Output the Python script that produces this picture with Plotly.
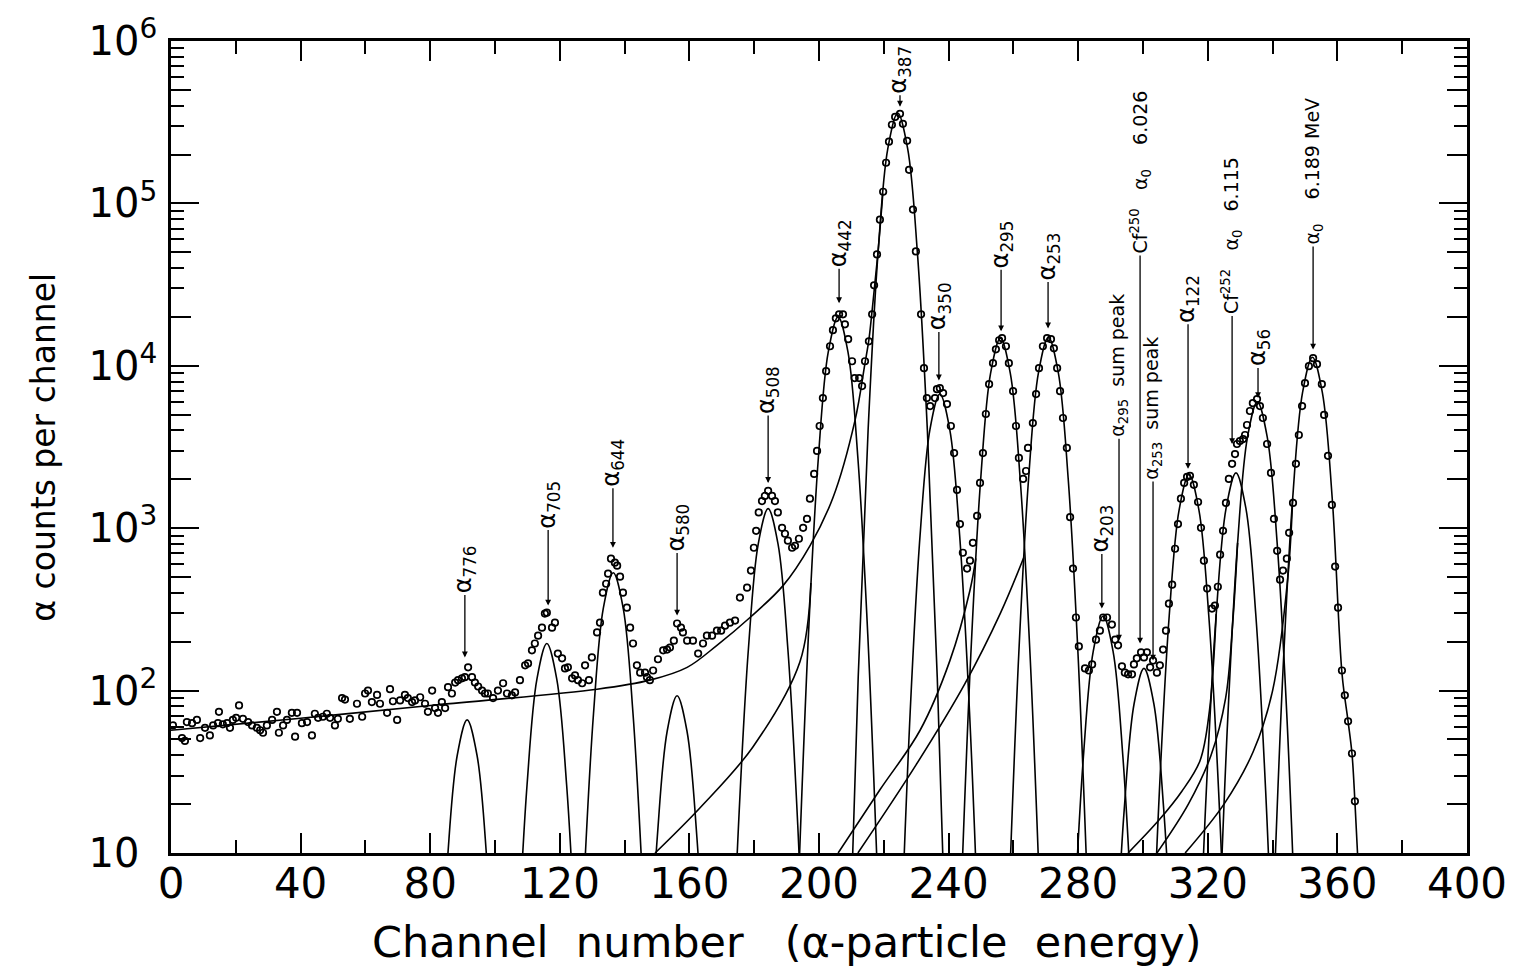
import math
import plotly.graph_objects as go

# ---------------- measured spectrum (channel, counts) ----------------
pts_a = [(0.6,61),(3.4,51),(4.3,49),(4.9,64),(6.5,63),(8.0,66),(9.0,51),(10.5,59),(12.0,53),(13.0,61),
         (14.5,63),(14.8,74),(16.0,62),(17.3,63),(18.2,59),(19.1,66),(20.1,68),(21.0,81),(22.2,67),(23.8,64),
         (25.0,61),(26.5,59),(27.5,57),(28.4,55),(29.6,61),(31.2,66),(32.7,74),(33.3,55),(34.6,61),(35.8,66),
         (37.3,73),(38.3,52),(38.9,73),(40.4,63),(42.0,64),(43.5,53),(44.4,72),(45.4,68),(46.9,69),(48.1,72),
         (49.1,68),(50.6,61),(51.5,67),(52.8,90),(53.7,88),(55.2,67),(57.4,83),(59.0,69),(59.9,96),(60.8,100),
         (62.0,85),(63.6,94),(64.5,83),(66.7,73),(67.6,102),(68.5,86),(69.8,66),(70.7,87),(72.2,94),(73.1,90),
         (74.4,85),(75.3,87),(76.9,91),(78.4,83),(79.3,74),(80.6,100),(81.5,78),(82.4,73),(83.6,85),(84.6,78),
         (85.5,105),(86.7,96),(87.7,112),(88.6,116),(89.8,119),(90.7,121),(91.7,139),(92.9,121),(93.8,112),
         (94.8,106),(96.0,100),(96.9,96),(97.8,96)]
pts_b = [(99.4,90),(100.9,100),(102.5,111),(103.7,96),(105.2,93.5),(106.2,97.5),(107.7,116),(109.3,143),
         (110.2,147),(111.4,177),(112.3,195),(113.3,218),(114.5,244),(115.4,298),(116.0,302),(117.6,244),
         (118.5,262),(119.4,169),(120.7,158),(121.6,137),(122.5,139),(123.8,119),(124.7,124),(125.6,116),
         (126.9,111),(127.8,143),(129.0,116),(129.9,160),(131.5,228),(132.4,262),(133.3,401),(134.3,455),
         (134.9,525),(135.8,649),(137.0,613),(137.7,588),(138.6,503),(139.5,401),(140.7,324),(141.7,244),
         (142.6,195),(143.8,143),(144.8,129),(146.3,129),(146.9,121),(147.8,116),(148.8,133),(150.3,156),
         (151.9,177),(153.1,179),(154.0,184),(155.2,203),(156.2,259),(157.4,244),(158.0,228),(159.3,203),
         (161.1,203),(162.7,169),(164.2,195),(165.4,218),(167.0,218),(168.5,234),(169.8,234),(171.0,251),
         (172.5,262),(174.1,270),(175.6,374),(177.8,430),(179.0,548),(179.9,758),(180.6,964),(181.4,1250),
         (182.4,1470),(183.3,1580),(184.3,1700),(185.5,1580),(186.4,1470),(187.3,1250),(188.6,1005),
         (189.5,924),(190.4,838),(191.7,758),(192.6,779),(193.8,861),(195.1,1005),(196.3,1140),(197.2,1520),
         (198.5,2160),(199.4,2990),(200.2,4260),(201.2,6330),(202.2,9270),(203.4,13190),(204.3,16570),
         (205.2,19600),(206.2,20750),(207.4,20750),(208.0,18000),(209.0,14580),(210.2,10670),(211.0,8400),
         (212.4,8400),(213.3,7500),(214.2,10670)]
pts_c = [(215.4,14150),(216.4,20750),(217.0,31300),(217.9,48500),(218.8,79400),(219.8,118000),(220.7,178000),
         (221.6,240000),(222.5,305000),(223.5,341000),(225.0,356000),(225.9,309000),(227.2,243000),
         (227.8,161000),(229.0,91600),(229.9,50600),(231.5,20750),(232.4,9670),(233.3,6330),(234.3,5650),
         (235.8,6330),(236.4,7180),(237.3,7280),(238.3,6790),(239.5,5810),(240.7,4260),(241.7,2900),
         (242.6,1720),(243.5,1060),(244.4,706),(245.7,564),(246.6,631),(247.5,813),(248.8,1190),(249.7,1900),
         (250.6,2900),(251.5,5050),(252.5,7710),(253.7,10380),(254.6,12640),(255.6,14370),(256.5,14790),
         (257.7,13190),(258.6,10380),(259.9,6980),(260.8,4260),(261.7,2710),(263.0,2010),(263.9,2250),
         (264.5,3120),(266.0,4440),(267.0,6700),(267.9,9670),(269.1,13190),(270.4,14790),(271.6,14580),
         (272.5,12820),(273.5,9670),(274.4,6980),(275.3,4770),(276.5,3120),(277.5,1170),(278.4,564),(279.3,282)]
pts_d = [(280.2,187),(282.1,137),(283.3,133),(284.3,145),(285.5,206),(286.7,234),(287.7,282),(288.9,282),
         (290.4,255),(291.4,206),(292.3,190),(293.5,141),(294.4,129),(295.4,126),(296.6,126),(297.2,145),
         (298.1,158),(299.4,172),(300.3,160),(301.2,172),(302.2,139),(303.1,153),(304.3,129),(305.2,143),
         (306.2,179),(307.1,234),(308.0,343),(309.0,449),(309.9,747),(310.8,1060),(311.7,1520),(312.7,1900),
         (313.6,2070),(314.5,2100),(315.7,1850),(317.0,1450),(317.9,1005),(318.8,631),(319.8,425),
         (321.3,320),(322.2,334),(323.1,436),(323.8,687),(324.7,964),(325.6,1430),(326.5,2010),(327.5,2490),
         (328.4,2860),(329.0,3300),(329.9,3440),(330.9,3540),(331.5,3750),(332.1,4320),(333.0,5270),
         (333.9,5890),(335.2,6240),(336.1,5650),(337.0,4770),(338.3,3300),(339.5,2190),(340.4,1140),
         (341.4,726),(342.3,482),(343.2,548),(344.4,649),(345.1,937),(346.3,1430),(347.2,2490),(348.1,3750),
         (349.1,5650),(350.0,7820),(351.2,9950),(352.5,11140),(353.7,10230),(355.2,7710),(355.9,4980),
         (357.1,2790),(358.3,1390),(359.3,580),(360.2,324),(361.4,133),(362.3,93.5),(363.3,64.7),
         (364.5,41),(365.4,20.8)]

# ---------------- fitted component curves (key points) ----------------
g776_x = [82.25,85.3,88.35,91.4,94.45,97.5,100.55];       g776_y = [0.73,8.9,40,66,40,8.9,0.73]
g705_x = [106.85,109.9,112.95,116.0,119.05,122.1,125.15]; g705_y = [2.17,26.4,118,195,118,26.4,2.17]
g644_x = [127.35,130.4,133.45,136.5,139.55,142.6,145.65]; g644_y = [5.9,72,323,532,323,72,5.9]
g580_x = [147.05,150.1,153.15,156.2,159.25,162.3,165.35]; g580_y = [1.03,12.6,56.4,93,56.4,12.6,1.03]
g508_x = [172.1,175.15,178.2,181.25,184.3,187.35,190.4,193.45,196.5]
g508_y = [0.44,14.7,179,801,1320,801,179,14.7,0.44]
g442_x = [193.7,196.75,199.8,202.85,205.9,208.95,212.0,215.05,218.1]
g442_y = [6.7,222,2706,12130,20000,12130,2706,222,6.7]
g387_x = [209.05,212.1,215.15,218.2,221.25,224.3,227.35,230.4,233.45,236.5,239.55]
g387_y = [1.34,120.6,4000,48700,218000,360000,218000,48700,4000,120.6,1.34]
g350_x = [225.1,228.15,231.2,234.25,237.3,240.35,243.4,246.45,249.5]
g350_y = [2.24,74.4,906,4064,6700,4064,906,74.4,2.24]
g295_x = [243.8,246.85,249.9,252.95,256.0,259.05,262.1,265.15,268.2]
g295_y = [4.96,164.4,2002,8976,14800,8976,2002,164.4,4.96]
g253_x = [258.6,261.65,264.7,267.75,270.8,273.85,276.9,279.95,283.0]
g253_y = [5.0,166.7,2030,9098,15000,9098,2030,166.7,5.0]
g203_x = [278.55,281.6,284.65,287.7,290.75,293.8,296.85]; g203_y = [3.2,39,175,288,175,39,3.2]
gcf250_x = [291.15,294.2,297.25,300.3,303.35,306.4,309.45]; gcf250_y = [1.52,18.5,83,137,83,18.5,1.52]
g122_x = [302.0,305.05,308.1,311.15,314.2,317.25,320.3,323.35,326.4]
g122_y = [0.72,23.8,290,1298,2140,1298,290,23.8,0.72]
gcf252_x = [316.5,319.55,322.6,325.65,328.7,331.75,334.8,337.85,340.9]
gcf252_y = [0.73,24.3,296,1328,2190,1328,296,24.3,0.73]
g56_x = [323.1,326.15,329.2,332.25,335.3,338.35,341.4,344.45,347.5]
g56_y = [2.0,66.7,812,3639,6000,3639,812,66.7,2.0]
g0_x = [340.1,343.15,346.2,349.25,352.3,355.35,358.4,361.45,363.3,364.5,365.4,366.6]
g0_y = [3.79,125.5,1529,6853,11300,6853,1529,125.5,64.7,41,20.8,7]

# low-energy tails / background
bg_x = [0,40,80,131.5,147.8,159.3,168.5,178.7,188.9,197.2,204.3,211.1,214.2,215.4,216.6,218.2,219.7]
bg_y = [57,67.5,81,102,116,139,190,282,443,779,1540,4600,10400,14500,24000,50000,115000]
t442_x = [149.4,163.3,179.6,194.1,197.5]; t442_y = [10,19,45,150,460]
t295_x = [205.9,218.8,231.2,240.4,246.6,248.4]; t295_y = [10,24.5,57,153,415,651]
t253_x = [212.0,230.0,245.0,256.0,263.2]; t253_y = [10,35,110,300,660]
t252_x = [295.4,305.0,312.0,317.6,320.5,322.6]; t252_y = [10,16,24,37,75,296]
t56_x = [304.3,314.0,321.0,325.5,327.7,329.2]; t56_y = [10,20,40,90,264,812]
t0_x = [313.0,325.0,334.0,340.0,344.7,346.2]; t0_y = [10,20,42,100,497,1529]

# ---------------- peak labels ----------------
NB = "\u00a0"

def sub(n):
    return "α<sub>" + n + "</sub>"

lab_text = [sub("776"), sub("705"), sub("644"), sub("580"), sub("508"), sub("442"), sub("387"),
            sub("350"), sub("295"), sub("253"), sub("203"),
            sub("295") + NB * 2 + "sum" + NB + "peak",
            "Cf<sup>250</sup>" + NB * 3 + sub("0") + NB * 4 + "6.026",
            sub("253") + NB * 2 + "sum" + NB + "peak",
            sub("122"),
            "Cf<sup>252</sup>" + NB * 3 + sub("0") + NB * 3 + "6.115",
            sub("56"),
            sub("0") + NB * 4 + "6.189" + NB + "MeV"]
lab_size = [24, 24, 24, 24, 24, 24, 24, 24, 24, 24, 24, 19, 19, 19, 24, 19, 24, 19]
lab_ch = [90.7,116.4,136.4,156.2,184.3,206.2,225.0,237.0,256.2,270.7,287.3,292.6,299.1,303.1,313.9,327.5,335.5,352.5]
lab_cnt = [160,334,758,290,1900,24300,394000,8130,16300,17000,320,203,195,153,2320,3300,6330,12600]
lab_off = [-88,-101,-85,-88,-93,-60,-37,-74,-87,-72,-80,-275,-471,-252,-170,-208,-50,-178]

# ---------------- figure ----------------
FONT = "DejaVu Sans"
fig = go.Figure()

line_style = dict(color="black", width=1.6, shape="spline", smoothing=1.0)
curves = [(bg_x, bg_y), (t442_x, t442_y), (t295_x, t295_y), (t253_x, t253_y),
          (t252_x, t252_y), (t56_x, t56_y), (t0_x, t0_y),
          (g776_x, g776_y), (g705_x, g705_y), (g644_x, g644_y), (g580_x, g580_y), (g508_x, g508_y),
          (g442_x, g442_y), (g387_x, g387_y), (g350_x, g350_y), (g295_x, g295_y), (g253_x, g253_y),
          (g203_x, g203_y), (gcf250_x, gcf250_y), (g122_x, g122_y), (gcf252_x, gcf252_y),
          (g56_x, g56_y), (g0_x, g0_y)]
for cx, cy in curves:
    fig.add_trace(go.Scatter(x=cx, y=cy, mode="lines", line=line_style, hoverinfo="skip", showlegend=False))

pts = pts_a + pts_b + pts_c + pts_d
fig.add_trace(go.Scatter(x=[p[0] for p in pts], y=[p[1] for p in pts], mode="markers",
                         marker=dict(symbol="circle-open", size=6.5, color="black", line=dict(width=1.7)),
                         showlegend=False))
fig.add_trace(go.Scatter(x=[None], y=[None], yaxis="y2", showlegend=False))

for t, sz, cx, cy, off in zip(lab_text, lab_size, lab_ch, lab_cnt, lab_off):
    fig.add_annotation(x=cx, y=math.log10(cy), text=t, textangle=-90, showarrow=True,
                       ax=0, ay=off, arrowhead=2, arrowsize=0.9, arrowwidth=1.3, arrowcolor="black",
                       font=dict(family=FONT, size=sz, color="black"))

fig.add_annotation(text="Channel  number   (α-particle  energy)", xref="paper", yref="paper",
                   x=0.475, y=-0.11, xanchor="center", yanchor="middle", showarrow=False,
                   font=dict(family=FONT, size=43, color="black"))
fig.add_annotation(text="α counts per channel", xref="paper", yref="paper", textangle=-90,
                   x=-0.099, y=0.50, xanchor="center", yanchor="middle", showarrow=False,
                   font=dict(family=FONT, size=33, color="black"))

decades = [10, 100, 1000, 10000, 100000, 1000000]
dec_txt = ["10<sup>" + NB * 2 + "</sup>"] + ["10<sup>" + e + "</sup>" for e in "23456"]
minor_vals = [m * d for d in [10, 100, 1000, 10000, 100000] for m in range(2, 10)]
mid_vals = [m * d for d in [10, 100, 1000, 10000, 100000] for m in (2, 5)]

fig.update_layout(
    width=1521, height=974, paper_bgcolor="white", plot_bgcolor="white",
    margin=dict(l=171, r=54, t=39, b=121),
    xaxis=dict(range=[0, 400], tickvals=list(range(0, 401, 40)), ticks="inside", ticklen=20, tickwidth=2,
               tickcolor="black", showline=True, linewidth=2.5, linecolor="black", mirror="ticks",
               showgrid=False, zeroline=False, ticklabelstandoff=-8,
               tickfont=dict(family=FONT, size=42, color="black"),
               minor=dict(tickvals=list(range(20, 400, 40)), ticks="inside", ticklen=13, tickwidth=2,
                          tickcolor="black", showgrid=False)),
    yaxis=dict(type="log", range=[1, 6], tickvals=decades, ticktext=dec_txt, ticks="inside", ticklen=28,
               tickwidth=2, tickcolor="black", showline=True, linewidth=2.5, linecolor="black",
               mirror="ticks", showgrid=False, zeroline=False, ticklabelstandoff=3,
               tickfont=dict(family=FONT, size=40, color="black"),
               minor=dict(tickvals=minor_vals, ticks="inside", ticklen=13, tickwidth=2, tickcolor="black",
                          showgrid=False)),
    yaxis2=dict(type="log", range=[1, 6], overlaying="y", side="left", tickvals=mid_vals, ticks="inside",
                ticklen=20, tickwidth=2, tickcolor="black", showticklabels=False, showline=False,
                mirror="ticks", showgrid=False, zeroline=False),
)

fig.write_html("out.html", post_script="document.body.style.margin='0';")
